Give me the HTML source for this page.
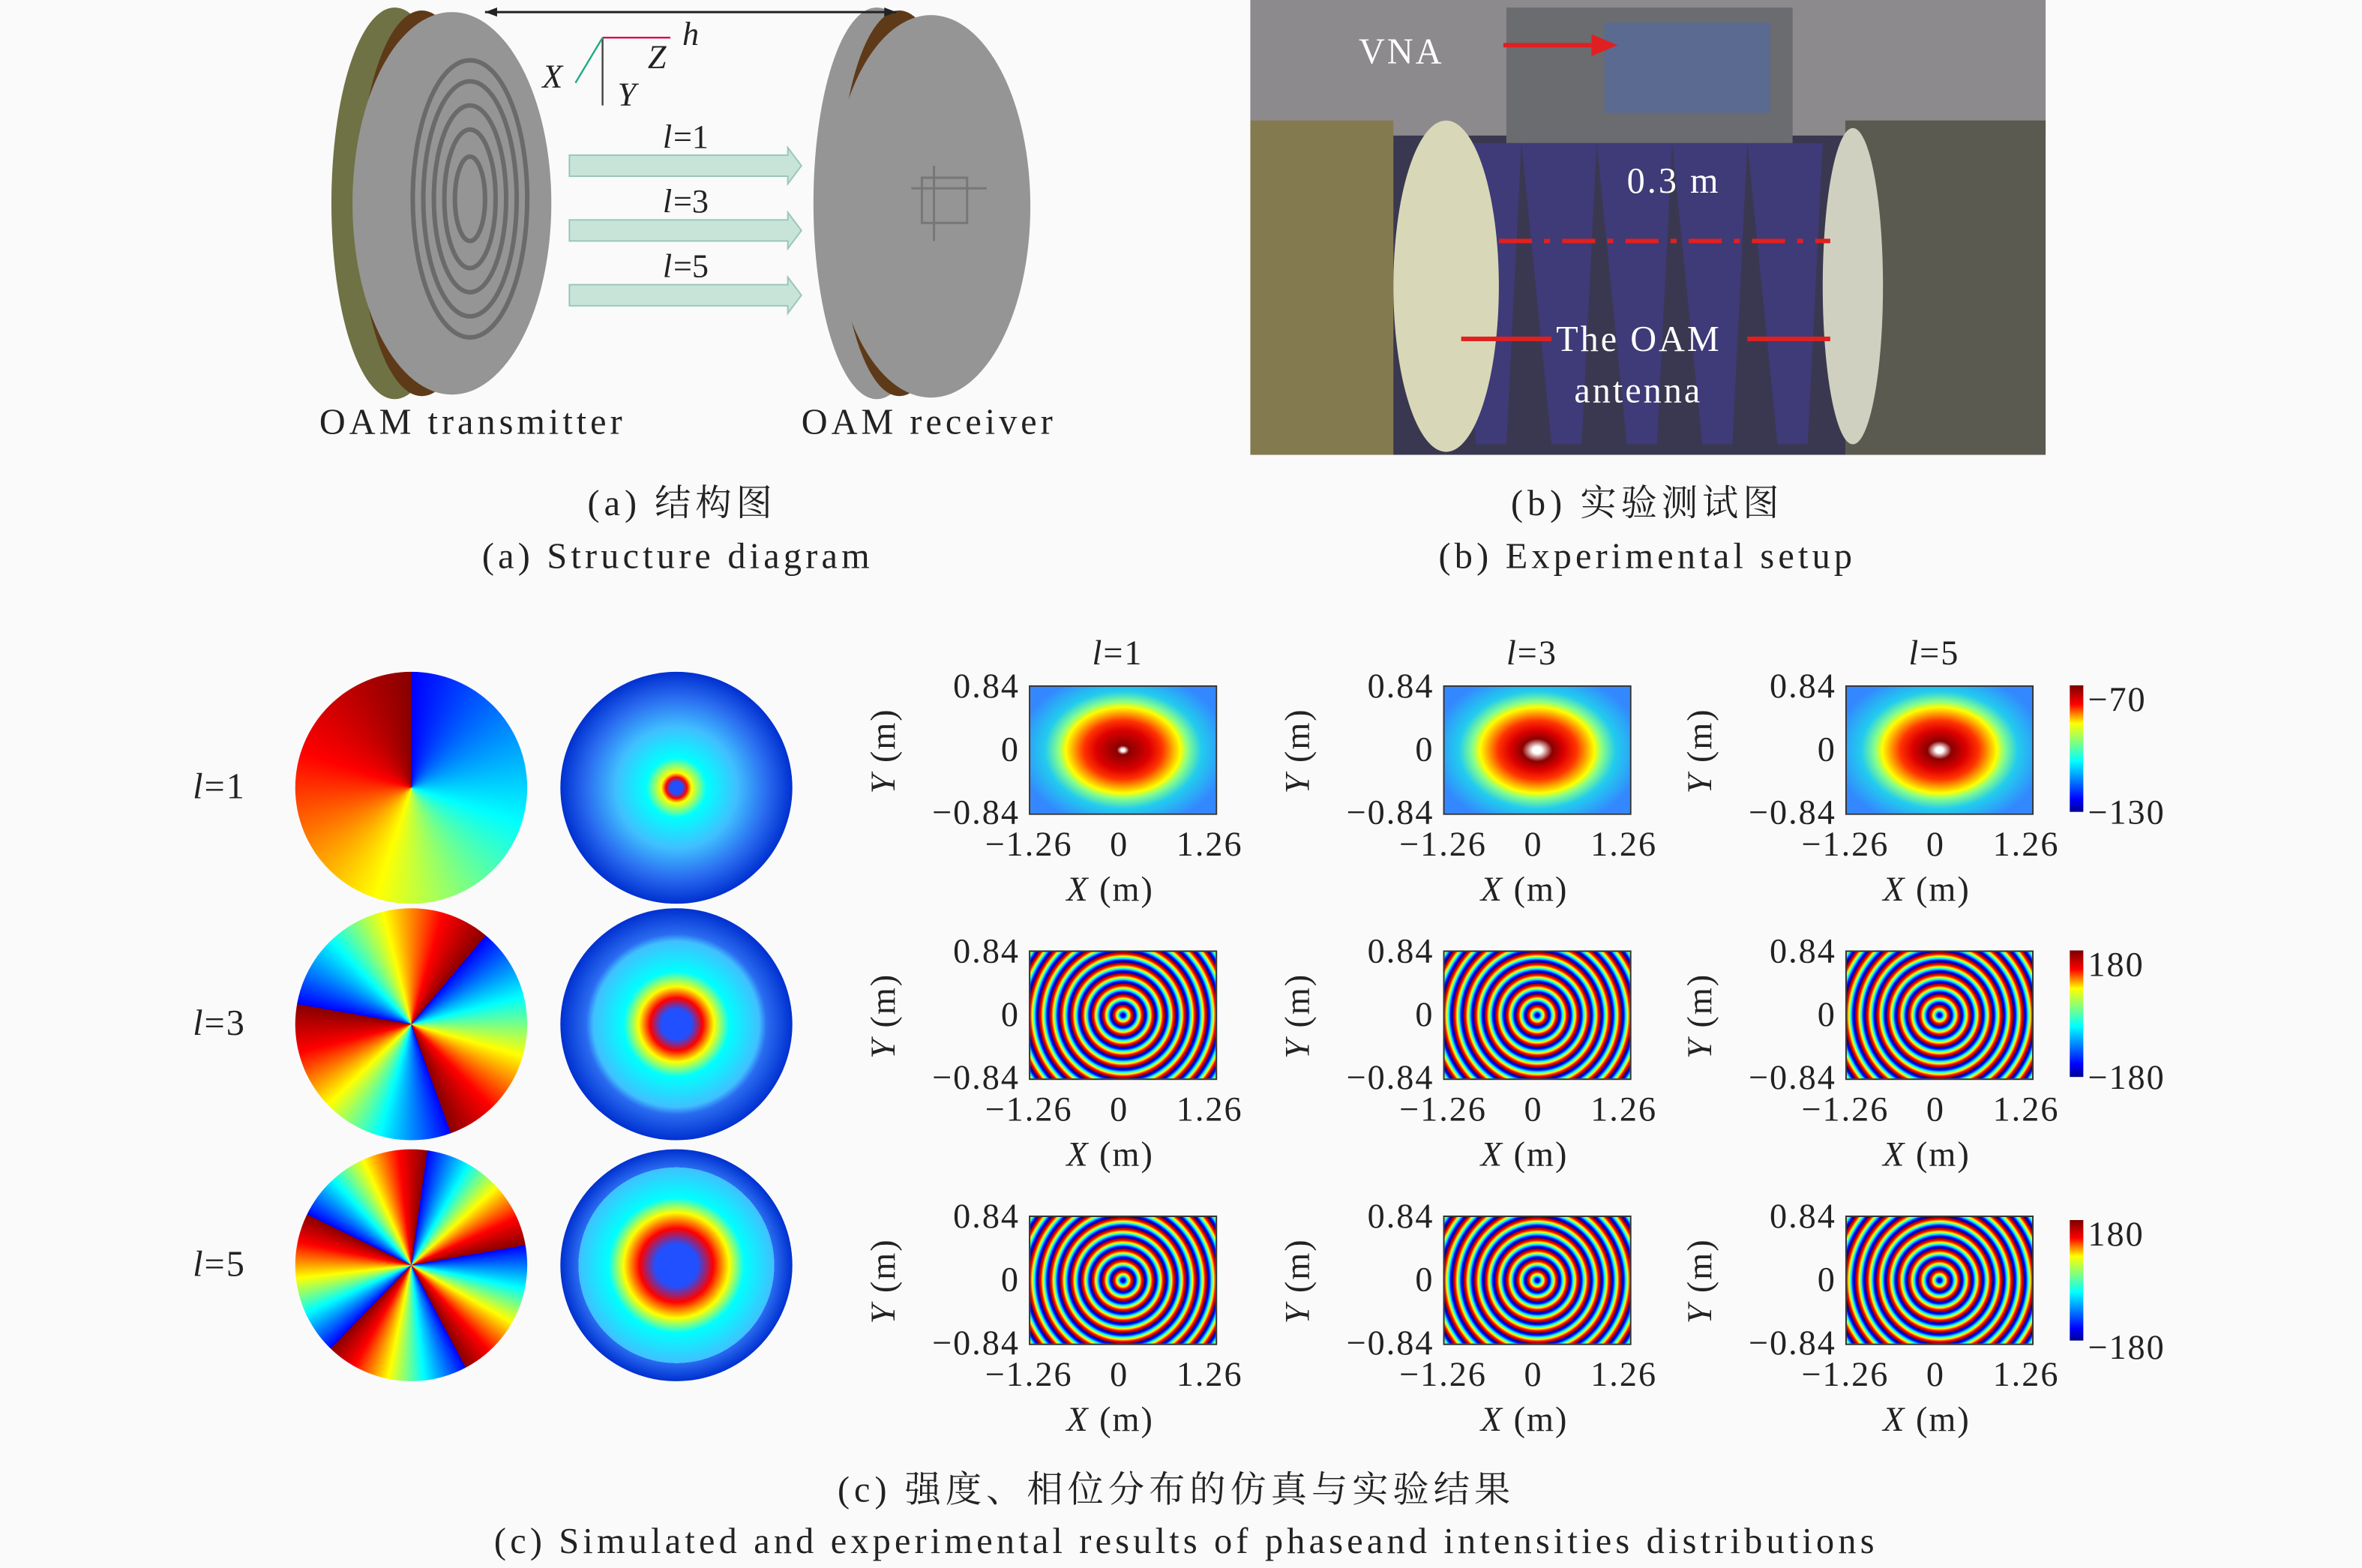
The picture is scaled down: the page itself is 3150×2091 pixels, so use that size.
<!DOCTYPE html>
<html><head><meta charset="utf-8"><style>
html,body{margin:0;padding:0;background:#fafafa;}
#root{position:absolute;left:0;top:0;width:1568px;height:1041px;transform:scale(2.00893,2.00864);transform-origin:0 0;background:#fafafa;font-family:"Liberation Serif","Noto Serif CJK SC",serif;color:#222;overflow:hidden}
.a{position:absolute}
.t{position:absolute;font-size:22px;white-space:nowrap;line-height:1;letter-spacing:1px}
.cap{position:absolute;font-size:24px;white-space:nowrap;text-align:center;line-height:1;letter-spacing:2.6px}
.cn{letter-spacing:3px}
.circ{position:absolute;width:154px;height:154px;border-radius:50%}
.box{position:absolute;width:125px;height:86px;border:1px solid #333;box-sizing:border-box}
.cb{position:absolute;width:9px;background:linear-gradient(#7a0000,#f00,#ff0 30%,#0ff 60%,#00f 90%,#000090)}
</style></head><body>
<div id="root">
<svg class="a" style="left:0;top:0" width="800" height="310">
 <ellipse cx="262" cy="135" rx="42" ry="130" fill="#6f7244"/>
 <ellipse cx="280" cy="135" rx="42" ry="128" fill="#5e3a18"/>
 <ellipse cx="300" cy="135" rx="66" ry="127" fill="#959595"/>
 <g fill="none" stroke="#6a6a6a" stroke-width="3">
  <ellipse cx="312" cy="132" rx="38" ry="92"/><ellipse cx="312" cy="132" rx="31" ry="78"/>
  <ellipse cx="312" cy="132" rx="24" ry="62"/><ellipse cx="312" cy="132" rx="17" ry="46"/><ellipse cx="312" cy="132" rx="10" ry="28"/>
 </g>
 <ellipse cx="582" cy="135" rx="42" ry="130" fill="#959595"/>
 <ellipse cx="597" cy="135" rx="40" ry="128" fill="#5e3a18"/>
 <ellipse cx="618" cy="137" rx="66" ry="127" fill="#959595"/>
 <g fill="none" stroke="#777" stroke-width="1.5"><rect x="612" y="118" width="30" height="30"/><path d="M605 125h50M620 110v50"/></g>
 <line x1="322" y1="8" x2="595" y2="8" stroke="#222" stroke-width="1.5"/>
 <path d="M322 8l8-3v6zM595 8l-8-3v6z" fill="#222"/>
 <g fill="#c8e4d8" stroke="#9bc7b8"><path d="M378 103h145v-5l9 12-9 12v-5h-145z"/><path d="M378 146h145v-5l9 12-9 12v-5h-145z"/><path d="M378 189h145v-5l9 12-9 12v-5h-145z"/></g>
 <g stroke-width="1.2"><line x1="400" y1="25" x2="400" y2="70" stroke="#444"/><line x1="400" y1="25" x2="445" y2="25" stroke="#d04"/><line x1="400" y1="25" x2="382" y2="55" stroke="#2a8"/></g>
 <g font-family="Liberation Serif" font-style="italic" font-size="22" fill="#222">
  <text x="360" y="58">X</text><text x="410" y="70">Y</text><text x="430" y="45">Z</text><text x="453" y="30">h</text>
  <text x="440" y="98">l</text><text x="440" y="141">l</text><text x="440" y="184">l</text>
 </g>
 <g font-family="Liberation Serif" font-size="22" fill="#222"><text x="447" y="98">=1</text><text x="447" y="141">=3</text><text x="447" y="184">=5</text></g>
</svg>
<div class="t" style="left:212px;top:269px;font-size:24px;letter-spacing:2.5px">OAM transmitter</div>
<div class="t" style="left:532px;top:269px;font-size:24px;letter-spacing:2.5px">OAM receiver</div>
<svg class="a" style="left:830px;top:0" width="528" height="302">
 <rect width="528" height="302" fill="#3a3850"/>
 <rect width="528" height="90" fill="#8c8a8c"/>
 <rect x="170" y="5" width="190" height="90" fill="#6a6c70"/><rect x="235" y="15" width="110" height="60" fill="#5a6a90"/>
 <g fill="#3f3a78"><path d="M130 95l20 200h20l10-200zM180 95l20 200h20l10-200zM230 95l20 200h20l10-200zM280 95l20 200h20l10-200zM330 95l20 200h20l10-200z"/></g>
 <rect x="0" y="80" width="95" height="222" fill="#847a50"/>
 <ellipse cx="130" cy="190" rx="35" ry="110" fill="#d8d8b8"/>
 <rect x="395" y="80" width="133" height="222" fill="#5a5a50"/>
 <ellipse cx="400" cy="190" rx="20" ry="105" fill="#d0d0c0"/>
 <g stroke="#e02020" stroke-width="3" fill="#e02020"><line x1="168" y1="30" x2="230" y2="30"/><path d="M240 30l-12-5v10z"/>
  <line x1="165" y1="160" x2="385" y2="160" stroke-dasharray="22 8 4 8"/>
  <line x1="140" y1="225" x2="200" y2="225"/><line x1="330" y1="225" x2="385" y2="225"/></g>
 <g font-family="Liberation Serif" font-size="24" fill="#fff" letter-spacing="1.5"><text x="72" y="42">VNA</text><text x="250" y="128">0.3 m</text><text x="203" y="233">The OAM</text><text x="215" y="267">antenna</text></g>
</svg>
<div class="cap cn" style="left:390px;top:323px">(a) 结构图</div>
<div class="cap" style="left:320px;top:358px">(a) Structure diagram</div>
<div class="cap cn" style="left:1003px;top:323px">(b) 实验测试图</div>
<div class="cap" style="left:955px;top:358px">(b) Experimental setup</div>
<div class="cap cn" style="left:556px;top:978px">(c) 强度、相位分布的仿真与实验结果</div>
<div class="cap" style="left:328px;top:1012px">(c) Simulated and experimental results of phaseand intensities distributions</div>
<div id="plots"></div>
</div>
<script>
const modes=["1","3","5"];
const rowTops=[455,631,807];
const colLefts=[683,958,1225];
const yTicks=["0.84","0","\u22120.84"];
const xTicks=["\u22121.26","0","1.26"];
const cbMax=["\u221270","180","180"];
const cbMin=["\u2212130","\u2212180","\u2212180"];
const root=document.getElementById('plots');
function mk(cls,css,html){const d=document.createElement('div');d.className=cls;d.style.cssText=css;if(html!==undefined)d.innerHTML=html;root.appendChild(d);return d;}
const rainbow="#00008f,#00f,#0ff,#ff0,#f00,#800000";
modes.forEach((m,r)=>{
 const cy=[523,680,840][r];
 const n=+m;
 let lab=mk('t',`left:128px;top:${cy-12}px;font-size:24px`,`<i>l</i>=${m}`);
 
 
 let stops=[];for(let k=0;k<n;k++){const a=360/n*k,b=360/n*(k+1);stops.push(`#00f ${a}deg,#0ff ${a+(b-a)*0.3}deg,#ff0 ${a+(b-a)*0.55}deg,#f00 ${a+(b-a)*0.8}deg,#800 ${b}deg`);}
 let c1=mk('circ',`left:196px;top:${cy-77}px;background:conic-gradient(from ${r*40}deg,${stops.join(',')})`);
 
 
 const rr=[10,25,35][r];
 let c2=mk('circ',`left:372px;top:${cy-77}px;background:radial-gradient(circle,#2050ff ${rr*0.4}px,#f00 ${rr*0.7}px,#ff0 ${rr}px,#0ff ${rr+10}px,#40c0ff ${rr+30}px,#2a6cf0 60px,#0030d0 77px)`);
 
 
 colLefts.forEach((x,c)=>{
  const y=rowTops[r];
  let bg;
  if(r===0){const h=[4,10,8][c];bg=`radial-gradient(ellipse 60px 45px at 50% 50%,#fff ${h*0.3}px,#8a0000 ${h}px,#d00 18px,#f30 26px,#fa0 33px,#ff0 38px,#8f8 43px,#2ce 52px,#38f 70px)`;}
  else bg=`repeating-radial-gradient(circle at 50% 50%,${rainbow} 7px)`;
  let b=mk('box',`left:${x}px;top:${y}px;background:${bg}`);
  
  
  yTicks.forEach((t,i)=>{let e=mk('t',`left:${x-66}px;width:60px;text-align:right;top:${y-11+i*42}px;font-size:23px`,t);
   
   });
  xTicks.forEach((t,i)=>{let e=mk('t',`left:${x-40+i*60}px;width:80px;text-align:center;top:${y+94}px;font-size:23px`,t);
   
   });
  let xa=mk('t',`left:${x+25}px;top:${y+124}px;font-size:23px`,'<i>X</i> (m)');
  
  
  let ya=mk('t',`left:${x-125}px;top:${y+32}px;font-size:23px;transform:rotate(-90deg)`,'<i>Y</i> (m)');
  
  
  if(r===0){let tt=mk('t',`left:${x+42}px;top:${y-33}px;font-size:23px`,`<i>l</i>=${modes[c]}`);
   
   }
 });
 const cbY=[455,631,810][r];
 let cb=mk('cb',`left:1374px;top:${cbY}px;height:${r===2?80:84}px`);
 
 
 let mx=mk('t',`left:1386px;top:${cbY-2}px;font-size:23px`,cbMax[r]);
 
 
 let mn=mk('t',`left:1386px;top:${cbY+73}px;font-size:23px`,cbMin[r]);
 
 
});
</script>
</body></html>
